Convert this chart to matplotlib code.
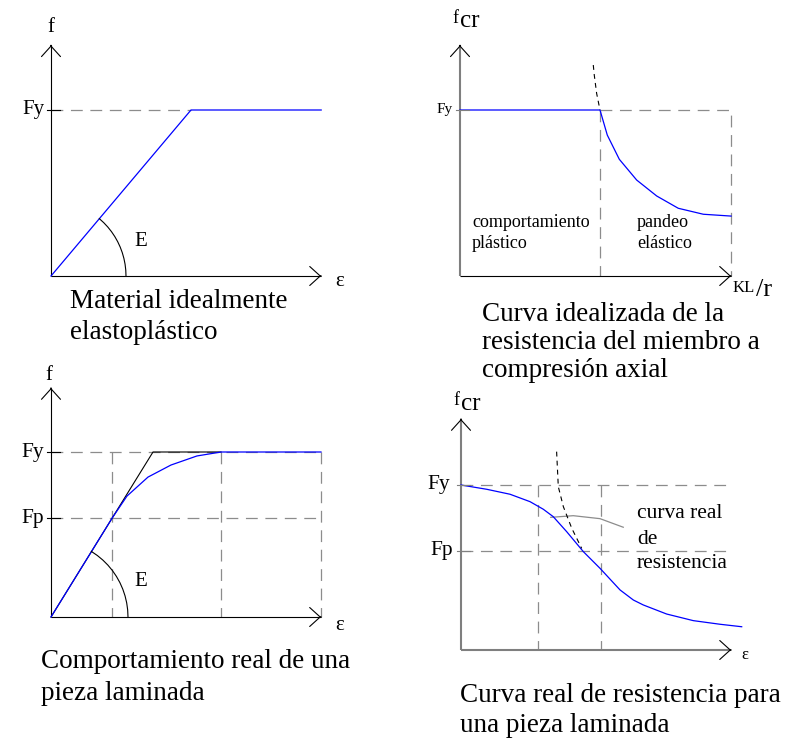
import numpy as np
import matplotlib.pyplot as plt

W, H = 789, 740
plt.rcParams['font.family'] = ['Liberation Serif', 'DejaVu Serif']
plt.rcParams['lines.scale_dashes'] = False

BLUE = '#0000ff'
GRAY = '#8c8c8c'
AXGRAY = '#7f7f7f'
DASH = (8.5, 5.5)
DOT = (3.5, 3)

# --- idealised elastoplastic material (stress vs strain, Fy = 1)
eps_ideal = [0, 1.0, 1.93]
f_ideal = [0, 1.0, 1.0]

# --- idealised column strength vs slenderness (KL/r)
kl_ideal = [0, 1.0, 1.052, 1.138, 1.262, 1.405, 1.559, 1.738, 1.936]
fcr_ideal = [1.0, 1.0, 0.849, 0.703, 0.578, 0.482, 0.408, 0.372, 0.361]
kl_euler_a = [0.952, 0.959, 0.976, 1.0]
fcr_euler_a = [1.271, 1.211, 1.100, 1.0]

# --- real behaviour of a rolled section
Fp = 0.6
eps_bilin = [0, 1.0, 1.667]
f_bilin = [0, 1.0, 1.0]
eps_real = [0, 0.6, 0.745, 0.951, 1.176, 1.431, 1.667, 2.647]
f_real = [0, 0.6, 0.733, 0.848, 0.921, 0.976, 1.0, 1.0]
eps_marks = [0.6, 1.667, 2.647]

# --- real column strength curve
kl_real = [0, 0.184, 0.35, 0.493, 0.588, 0.659, 0.755, 0.874, 0.993, 1.136,
           1.231, 1.302, 1.469, 1.659, 1.85, 2.005]
fcr_real = [1.0, 0.974, 0.944, 0.899, 0.853, 0.808, 0.717, 0.596, 0.495, 0.364,
            0.303, 0.273, 0.218, 0.178, 0.156, 0.141]
kl_resid = [0.641, 0.802, 0.993, 1.159]
fcr_resid = [0.804, 0.814, 0.796, 0.744]
kl_euler_b = [0.683, 0.695, 0.731, 0.791, 0.862]
fcr_euler_b = [1.202, 0.99, 0.869, 0.738, 0.616]
kl_marks = [0.55, 1.0]

fig = plt.figure(figsize=(W / 100, H / 100), dpi=100)


def panel(ox, oy, sx, sy, xr, yr):
    # ox, oy: pixel of the origin (y from top); sx, sy: pixels per unit
    x0, x1 = xr
    y0, y1 = yr
    ax = fig.add_axes([(ox + x0 * sx) / W, (H - oy + y0 * sy) / H,
                       (x1 - x0) * sx / W, (y1 - y0) * sy / H])
    ax.set_xlim(x0, x1)
    ax.set_ylim(y0, y1)
    ax.axis('off')
    return ax


def arrows(ax, xtip, ytip, xcol='k', ycol='k', xlw=0.8, ylw=0.8):
    ax.plot([0, xtip], [0, 0], color=xcol, lw=xlw, solid_capstyle='butt')
    ax.plot([0, 0], [0, ytip], color=ycol, lw=ylw, solid_capstyle='butt')
    style = dict(arrowstyle='->,head_length=0.42,head_width=0.38',
                 mutation_scale=18, color='k', lw=0.8, shrinkA=0, shrinkB=0)
    ax.annotate('', xy=(xtip, 0), xytext=(xtip - 1e-3, 0), arrowprops=style)
    ax.annotate('', xy=(0, ytip), xytext=(0, ytip - 1e-3), arrowprops=style)


def tick(ax, sx, v, label, size, col='k', lw=0.8, off=-5):
    ax.plot([-4 / sx, 9 / sx], [v, v], color=col, lw=lw)
    ax.annotate(label, (0, v), xytext=(off, 0), textcoords='offset points',
                ha='right', va='center', fontsize=size)


def arc(ax, sx, sy, r, slope):
    t = np.linspace(0, np.arctan2(slope * sy, sx), 12)
    ax.plot(r / sx * np.cos(t), r / sy * np.sin(t), color='k', lw=0.8)


def ftext(x, y, s, size, **kw):
    fig.text(x / W, 1 - y / H, s, fontsize=size, **kw)


# ---------------- top left
sx, sy = 140, 166
ax = panel(51, 276, sx, sy, (-0.35, 2.3), (-0.2, 1.6))
ax.plot([0, 1.0], [1, 1], color=GRAY, lw=0.9, dashes=DASH)
arrows(ax, 1.929, 1.39)
ax.plot(eps_ideal, f_ideal, color=BLUE, lw=0.9)
arc(ax, sx, sy, 75, 1.0)
tick(ax, sx, 1.0, 'Fy', 15)
ftext(51, 27, 'f', 15, ha='center', va='center')
ftext(141, 241, 'E', 15, ha='center', va='center')
ftext(340, 282, 'ε', 15, ha='center', va='center')
ftext(70, 308, 'Material idealmente', 19.5, va='baseline')
ftext(70, 339, 'elastoplástico', 19.5, va='baseline')

# ---------------- top right
sx, sy = 140, 166
ax = panel(460, 276, sx, sy, (-0.35, 2.3), (-0.2, 1.6))
ax.plot([1.0, 1.936, 1.936], [1, 1, 0], color=GRAY, lw=0.9, dashes=DASH)
ax.plot([1.0, 1.0], [1, 0], color=GRAY, lw=0.9, dashes=DASH)
arrows(ax, 1.936, 1.39, ycol=AXGRAY, ylw=1.5)
ax.plot(kl_ideal, fcr_ideal, color=BLUE, lw=0.9)
ax.plot(kl_euler_a, fcr_euler_a, color='k', lw=0.8, dashes=DOT)
tick(ax, sx, 1.0, 'Fy', 11, col=AXGRAY)
ftext(452, 23, 'f', 13, va='baseline')
ftext(460, 27, 'cr', 18, va='baseline')
ftext(472, 223, 'comportamiento', 13, va='center')
ftext(472, 243, 'plástico', 13, va='center')
ftext(637, 223, 'pandeo', 13, va='center')
ftext(637, 243, 'elástico', 13, va='center')
ftext(733, 292, 'KL', 12, va='baseline')
ftext(756, 296, '/r', 19, va='baseline')
ftext(482, 321, 'Curva idealizada de la', 19.5, va='baseline')
ftext(482, 349, 'resistencia del miembro a', 19.5, va='baseline')
ftext(482, 377, 'compresión axial', 19.5, va='baseline')

# ---------------- bottom left
sx, sy = 102, 165
ax = panel(51, 617, sx, sy, (-0.5, 3.1), (-0.2, 1.6))
for v in (1.0, Fp):
    ax.plot([0, 2.647], [v, v], color=GRAY, lw=0.9, dashes=DASH)
for e in eps_marks:
    ax.plot([e, e], [1.0, 0], color=GRAY, lw=0.9, dashes=DASH)
arrows(ax, 2.647, 1.388)
ax.plot(eps_bilin, f_bilin, color='k', lw=0.8)
ax.plot(eps_real, f_real, color=BLUE, lw=0.9)
arc(ax, sx, sy, 77, 1.0)
tick(ax, sx, 1.0, 'Fy', 15.5)
tick(ax, sx, Fp, 'Fp', 15.5)
ftext(49, 375, 'f', 15, ha='center', va='center')
ftext(141, 582, 'E', 15, ha='center', va='center')
ftext(340, 626, 'ε', 15, ha='center', va='center')
ftext(41, 668, 'Comportamiento real de una', 19.5, va='baseline')
ftext(41, 700, 'pieza laminada', 19.5, va='baseline')

# ---------------- bottom right
sx, sy = 140, 165
ax = panel(461, 650, sx, sy, (-0.35, 2.3), (-0.2, 1.6))
for v in (1.0, Fp):
    ax.plot([0, 1.929], [v, v], color=GRAY, lw=0.9, dashes=DASH)
for k in kl_marks:
    ax.plot([k, k], [1.0, 0], color=GRAY, lw=0.9, dashes=DASH)
arrows(ax, 1.929, 1.4, xcol=AXGRAY, ycol=AXGRAY, xlw=1.5, ylw=1.5)
ax.plot(kl_resid, fcr_resid, color=GRAY, lw=0.9)
ax.plot(kl_real, fcr_real, color=BLUE, lw=0.9)
ax.plot(kl_euler_b, fcr_euler_b, color='k', lw=0.8, dashes=DOT)
tick(ax, sx, 1.0, 'Fy', 15.5, col=AXGRAY, off=-8)
tick(ax, sx, Fp, 'Fp', 15.5, col=AXGRAY, off=-6)
ftext(453, 405, 'f', 13, va='baseline')
ftext(461, 410, 'cr', 18, va='baseline')
ftext(745, 655, 'ε', 12, ha='center', va='center')
ftext(637, 513, 'curva real', 15.5, va='center')
ftext(637, 539, 'de', 15.5, va='center')
ftext(637, 564, 'resistencia', 15.5, va='center')
ftext(460, 702, 'Curva real de resistencia para', 19.5, va='baseline')
ftext(460, 732, 'una pieza laminada', 19.5, va='baseline')

fig.savefig('out.png', dpi=100)
